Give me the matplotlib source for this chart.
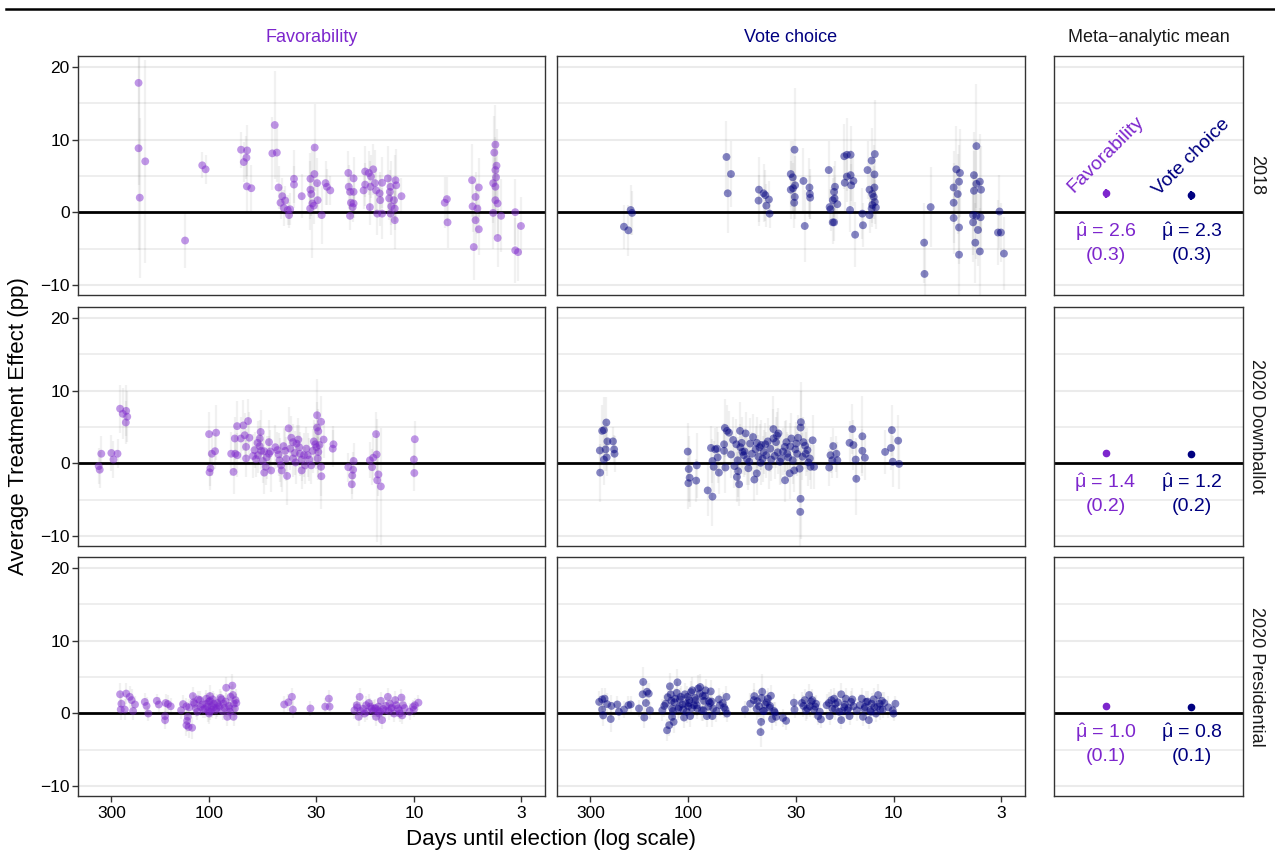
import matplotlib
matplotlib.use('Agg')
import matplotlib.pyplot as plt
from matplotlib.lines import Line2D
from matplotlib.ticker import NullLocator
import numpy as np

plt.rcParams['font.family'] = ['Liberation Sans', 'DejaVu Sans']
plt.rcParams['mathtext.fontset'] = 'custom'
plt.rcParams['mathtext.rm'] = 'Liberation Sans'
plt.rcParams['mathtext.it'] = 'Liberation Sans'

PURPLE = '#7D26CD'
NAVY = '#000080'

# ---- 2018, favorability ----
fav18_days = [221, 221, 205, 218, 131, 108, 104, 69.8, 65.2, 65.7,
              67.7, 65.4, 62.2, 47.8, 49.1, 46.7, 45.8, 43.9, 44.8, 42.5,
              43.2, 41.3, 40.2, 40.7, 38.5, 38.5, 35.3, 32.0, 30.6, 30.5,
              29.7, 32.0, 31.7, 29.5, 31.3, 32.1, 30.8, 28.2, 27.0, 26.6,
              25.6, 20.9, 19.7, 20.8, 20.5, 19.7, 20.3, 19.7, 19.9, 20.5,
              17.6, 17.3, 16.6, 15.8, 16.2, 17.3, 16.3, 15.5, 14.3, 14.7,
              15.3, 14.6, 16.4, 15.1, 14.3, 13.4, 13.0, 13.1, 12.3, 12.2,
              12.5, 13.2, 12.9, 12.4, 13.0, 12.4, 11.5, 7.07, 6.9, 6.85,
              5.2, 4.82, 5.0, 5.17, 4.9, 5.0, 4.82, 5.1, 4.0, 4.05,
              3.95, 4.0, 3.97, 4.1, 4.0, 4.0, 3.9, 4.1, 3.75, 3.9,
              3.2, 3.0, 3.2, 3.1]
fav18_ate = [17.8, 8.8, 7.0, 2.0, -3.9, 6.45, 5.9, 8.6, 8.5, 7.5,
             6.9, 3.55, 3.3, 12.0, 8.1, 8.2, 3.4, 2.2, 1.3, 1.6,
             0.6, 0.3, 0.4, -0.4, 4.6, 3.8, 2.2, 4.6, 5.25, 8.9,
             4.0, 3.1, 2.5, 1.65, 1.2, 0.5, 0.9, -0.4, 4.0, 3.5,
             3.0, 5.4, 4.65, 3.5, 2.8, 2.8, 1.3, 1.2, 0.7, -0.5,
             3.0, 5.6, 5.4, 5.9, 4.9, 3.8, 3.5, 4.0, 4.05, 2.6,
             3.0, 1.65, 0.7, -0.2, -0.2, 4.65, 3.5, 2.8, 4.4, 3.7,
             1.65, 1.9, 0.8, 0.5, -0.2, -1.1, 2.2, 1.3, 1.8, -1.4,
             4.4, 3.4, 2.1, 0.8, 0.5, -1.1, -2.35, -4.8, 9.3, 8.2,
             6.4, 5.8, 4.8, 4.0, 3.5, 1.65, 1.2, -0.1, -0.5, -3.55,
             0.0, -1.9, -5.25, -5.5]
fav18_ci = [14, 14, 14, 11, 3.8, 1.8, 2.0, 2.5, 3.5, 3.0,
            2.8, 3.5, 3.2, 7.5, 5.0, 4.0, 3.0, 2.5, 2.2, 2.0,
            2.5, 2.0, 2.2, 1.8, 4.0, 2.5, 3.0, 3.5, 4.0, 6.0,
            3.5, 4.0, 3.0, 2.5, 7.5, 3.0, 2.5, 4.0, 3.0, 2.5,
            2.0, 3.0, 3.0, 3.0, 2.5, 2.5, 2.0, 2.0, 2.0, 2.0,
            2.5, 3.5, 3.0, 3.5, 3.0, 3.0, 3.5, 4.5, 3.5, 3.0,
            3.0, 3.5, 2.5, 3.0, 3.5, 4.5, 3.5, 3.0, 3.5, 5.0,
            3.0, 3.0, 2.5, 3.0, 3.0, 4.0, 2.5, 3.5, 3.0, 3.5,
            5.0, 4.0, 3.5, 3.5, 3.5, 4.0, 3.5, 4.5, 5.5, 5.0,
            5.0, 4.5, 5.0, 5.5, 4.0, 5.0, 4.5, 5.0, 5.0, 4.0,
            4.5, 4.0, 4.5, 4.0]

# ---- 2018, vote choice ----
vote18_days = [206, 196, 191, 188, 65.2, 62.0, 64.3, 45.3, 45.5, 43.0,
               42.2, 40.5, 41.7, 40.2, 31.7, 30.4, 31.0, 30.2, 31.7, 30.9,
               30.3, 30.5, 27.5, 27.1, 25.7, 25.6, 25.5, 20.7, 19.3, 19.5,
               19.4, 19.8, 18.8, 20.5, 20.3, 19.8, 19.5, 17.4, 16.9, 16.2,
               17.3, 16.9, 16.2, 16.1, 15.7, 16.3, 15.4, 14.2, 14.1, 13.4,
               12.8, 12.35, 12.4, 13.1, 12.7, 12.4, 12.5, 12.35, 12.7, 12.2,
               12.8, 13.1, 7.1, 7.07, 6.6, 5.1, 5.1, 5.1, 4.95, 4.75,
               4.8, 4.87, 4.8, 4.8, 3.95, 4.06, 3.95, 3.8, 4.06, 3.75,
               4.1, 3.95, 3.77, 4.1, 3.88, 4.0, 3.8, 3.05, 3.1, 3.0,
               2.9]
vote18_ate = [-2.0, -2.5, 0.3, -0.1, 7.6, 5.25, 2.6, 3.1, 1.6, 2.6,
              2.35, 1.75, 0.9, -0.2, 5.25, 8.6, 4.8, 3.7, 3.1, 3.3,
              2.1, 1.3, 4.3, -1.9, 3.4, 2.5, 2.0, 5.8, 3.5, 2.8,
              1.9, 1.65, 1.1, 0.7, 0.4, -1.4, -1.4, 7.7, 7.9, 7.9,
              4.05, 4.9, 5.1, 3.7, 4.3, 0.3, -3.1, -0.2, -1.8, 5.8,
              7.1, 8.0, 5.2, 3.1, 2.5, 3.4, 2.1, 1.4, 1.0, 0.65,
              0.5, -0.4, -4.2, -8.5, 0.7, -0.8, 1.3, 3.4, 5.9, 5.4,
              4.2, 2.5, -2.1, -5.85, 9.1, 5.1, 3.9, 4.2, 2.95, 3.1,
              -0.4, -0.5, -0.7, -1.4, -2.45, -4.2, -5.4, 0.1, -2.8, -2.8,
              -5.7]
vote18_ci = [3.0, 3.5, 3.5, 3.0, 5.0, 4.5, 5.5, 4.5, 3.5, 4.0,
             3.5, 2.5, 3.0, 2.0, 4.5, 8.5, 5.0, 4.0, 4.0, 3.5,
             3.0, 3.5, 4.5, 5.0, 4.0, 3.5, 3.0, 4.0, 3.5, 3.5,
             3.0, 3.0, 2.5, 2.5, 3.0, 3.0, 2.5, 4.5, 5.0, 4.0,
             4.0, 3.5, 3.5, 3.0, 3.5, 3.0, 4.5, 3.5, 3.0, 4.0,
             4.5, 7.5, 4.0, 3.5, 3.5, 3.0, 3.0, 3.0, 2.5, 3.0,
             2.5, 2.5, 5.5, 5.0, 5.5, 5.0, 5.5, 5.0, 6.0, 6.0,
             5.0, 5.5, 5.0, 5.5, 8.5, 6.0, 6.0, 6.5, 5.5, 6.0,
             5.5, 6.0, 5.0, 5.5, 5.0, 5.5, 6.0, 5.0, 4.5, 4.0,
             5.0]

# ---- 2020 downballot, favorability ----
favdb_days = [346, 342, 336, 300, 293, 280, 272, 264, 254, 251,
              255, 100, 92.4, 97, 93.5, 99.5, 98.5, 78, 76, 74.9,
              73, 68, 67, 63.6, 64.5, 70, 74.5, 72.8, 66, 66,
              60, 59, 56, 56.6, 56.6, 55.6, 57.7, 53.8, 52.3, 51,
              51, 53.8, 52.9, 49.8, 46.4, 45.3, 44.5, 44.2, 43.3, 42.5,
              41.6, 40.9, 39.7, 38.9, 37.4, 38.2, 38.9, 36.7, 36.0, 35.3,
              35.3, 34.0, 33.5, 33.0, 31.7, 30.3, 29.7, 29.7, 29.3, 28.4,
              28.9, 29.3, 29.5, 28.4, 28.3, 27.6, 24.9, 24.7, 20.9, 19.7,
              19.8, 20.0, 20.1, 16.4, 15.8, 15.2, 15.3, 16.0, 14.9, 15.1,
              14.5, 9.9, 10.0, 9.95,
              61, 58, 54.7, 50.2, 47.5, 45.8, 42, 40.1, 37.8, 36.3,
              34.4, 32.4, 31.2, 30.8, 29.9]
favdb_ate = [-0.4, -0.9, 1.3, 1.4, 0.5, 1.3, 7.5, 6.8, 7.2, 6.4,
             5.6, 4.0, 4.2, 1.3, 1.65, -1.25, -0.7, 1.3, -1.2, 3.4,
             5.1, 5.2, 3.85, 3.5, 5.8, 3.4, 1.3, 1.1, 2.25, 0.65,
             1.8, 0.55, 4.3, 3.4, 2.35, 1.7, 1.1, 1.65, 0.8, 2.9,
             1.3, -1.3, -0.5, -1.0, 1.8, 0.4, -0.3, -1.0, 2.35, 1.7,
             -1.75, 4.8, 3.5, 2.9, 2.7, 1.4, 0.65, 3.25, 1.3, 0.5,
             -1.0, -0.3, 2.0, 1.1, -0.3, 2.6, 6.6, 4.9, 4.4, 5.7,
             2.5, 1.55, 0.65, -0.5, -1.8, 3.25, 2.0, 2.6, -0.55, 0.3,
             -0.9, -1.7, -2.9, 0.4, 0.75, 1.2, 4.0, -0.55, -1.55, -2.35,
             -3.2, 3.3, 0.5, -1.35,
             1.0, 2.8, 0.3, 1.6, 2.2, 1.2, 0.6, 2.0, 0.1, 2.2,
             1.1, 0.5, 1.7, 3.0, 2.2]
favdb_ci = [2.5, 2.5, 2.5, 2.5, 2.5, 2.0, 3.3, 3.5, 3.5, 3.5,
            3.0, 3.0, 3.8, 3.0, 2.5, 2.5, 2.5, 3.0, 3.0, 3.0,
            3.5, 3.5, 3.0, 3.5, 3.0, 3.0, 2.5, 3.0, 2.5, 2.5,
            2.5, 2.5, 3.0, 2.5, 2.5, 2.5, 2.5, 2.5, 3.0, 3.0,
            2.5, 3.0, 2.5, 3.0, 2.5, 3.0, 3.0, 3.0, 2.5, 3.0,
            4.0, 3.0, 3.0, 2.5, 2.5, 3.0, 2.5, 3.0, 3.0, 3.0,
            2.5, 2.5, 3.0, 3.0, 2.5, 3.0, 5.0, 3.5, 3.0, 3.5,
            3.0, 3.5, 3.0, 4.0, 4.5, 2.5, 2.5, 2.5, 2.0, 2.5,
            2.5, 2.5, 2.0, 2.5, 3.0, 3.0, 3.0, 2.5, 3.0, 8.5,
            8.0, 2.5, 2.5, 2.5,
            3.0, 3.0, 3.0, 3.0, 3.0, 3.0, 3.0, 3.0, 3.0, 3.0,
            3.0, 3.0, 3.0, 3.0, 3.0]

# ---- 2020 downballot, vote choice ----
votedb_days = [269, 270, 263, 258, 251, 253, 258, 250, 248, 233,
               230, 229, 100.7, 99.6, 98.6, 100, 91.6, 91, 80.5, 76.3,
               77.6, 76.3, 75.3, 74, 72.5, 72, 71, 67, 67, 66,
               66.4, 64.8, 63.4, 59.6, 58.0, 56.6, 57.2, 58.4, 56, 55,
               54.5, 53.8, 52.6, 51.8, 51, 50, 49, 47.7, 46.4, 46.4,
               45.6, 44.5, 44.2, 43, 42.2, 40.6, 39.5, 38.5, 38.5, 37.4,
               36.7, 36.4, 35.3, 33.9, 33.3, 33, 33.8, 32.1, 31.5, 30.5,
               29.8, 29.5, 28.7, 28.4, 28.5, 28.3, 28.4, 27.5, 26.8, 26.3,
               25.6, 25.4, 24.8, 24.4, 20.6, 20.3, 19.9, 19.7, 19.0, 18.8,
               15.9, 16.4, 15.7, 15.3, 15.2, 14.2, 14.2, 13.8, 11.0, 10.3,
               10.2, 10.1, 9.5, 9.4,
               62, 60.5, 57.5, 55.8, 53.2, 50.5, 48.4, 47, 45, 43.5,
               41.8, 41, 39.9, 38, 37, 35.8, 34.6, 32.6, 31.9, 31,
               30.1, 29.2, 27.8, 27, 26]
votedb_ate = [-1.3, 1.75, 4.45, 4.55, 5.6, 1.9, 0.5, 0.8, 3.0, 3.0,
              1.9, 1.3, 1.6, -0.8, -2.0, -2.75, -2.4, -0.3, -3.75, -4.6,
              2.1, 0.3, -0.5, 1.9, 2.0, 0.8, -1.3, 1.7, 2.6, -0.6,
              4.85, 4.45, 4.2, -0.4, -1.9, -2.9, -1.1, 2.6, 4.45, 2.8,
              1.55, 1.1, 4.1, 0.55, -0.7, 2.7, 1.3, -2.25, -1.4, 2.8,
              0.9, 0.05, 2.5, 1.55, 2.6, -0.5, 0.5, 4.7, 3.4, 2.9,
              1.5, 4.1, 0.65, 2.25, 2.9, 1.3, -2.35, -1.4, 3.4, -1.0,
              2.7, 1.3, -0.75, -4.9, -6.7, 5.65, 4.9, 2.9, 1.3, 1.8,
              0.65, -0.5, 3.15, -0.5, -0.6, 1.1, 0.4, 2.35, 1.3, 0.4,
              4.7, 2.8, 2.5, 0.5, -2.15, 1.7, 3.7, 0.75, 1.55, 2.1,
              4.55, 0.2, 3.1, -0.1,
              1.2, 3.2, 0.4, 2.2, 1.6, 0.2, 3.6, 1.9, 2.2, 0.6,
              1.1, 3.0, 2.0, 1.0, 3.8, 0.2, 1.6, 0.8, 2.3, 0.4,
              1.9, 3.5, 0.9, 2.4, 0.1]
votedb_ci = [4.0, 3.0, 3.5, 4.5, 3.5, 3.0, 3.5, 2.5, 2.5, 2.0,
             2.0, 2.5, 4.0, 4.5, 4.0, 3.5, 3.0, 4.5, 3.5, 4.0,
             3.0, 3.0, 3.5, 3.0, 3.0, 3.5, 3.0, 3.0, 3.0, 3.5,
             4.0, 3.5, 3.0, 3.0, 3.5, 3.0, 3.5, 3.5, 4.0, 3.5,
             3.0, 3.0, 3.0, 3.5, 3.0, 3.5, 3.0, 3.0, 3.0, 3.5,
             3.0, 3.0, 3.5, 3.0, 3.0, 3.0, 3.0, 4.5, 4.0, 3.5,
             3.0, 3.5, 3.5, 3.5, 3.0, 3.0, 3.0, 3.5, 3.5, 3.0,
             3.0, 3.0, 3.5, 5.5, 5.5, 5.5, 5.0, 3.5, 3.0, 3.0,
             3.0, 3.0, 3.5, 3.0, 2.5, 2.5, 2.5, 2.5, 2.5, 2.5,
             3.5, 3.0, 3.5, 3.0, 5.0, 3.0, 5.5, 3.0, 3.0, 3.0,
             3.5, 3.5, 3.5, 3.5,
             3.2, 3.2, 3.2, 3.2, 3.2, 3.2, 3.2, 3.2, 3.2, 3.2,
             3.2, 3.2, 3.2, 3.2, 3.2, 3.2, 3.2, 3.2, 3.2, 3.2,
             3.2, 3.2, 3.2, 3.2, 3.2]

# ---- 2020 presidential, favorability ----
favpr_days = [272, 254, 268, 270, 258, 244, 239, 230, 235, 206,
              202, 198, 180, 176, 163, 159, 154, 164, 164, 137,
              134, 129, 127, 128, 129, 126, 121, 120, 118, 113,
              116, 110, 107, 103, 101, 99, 98.9, 97, 94.8, 100,
              92, 90, 87, 85, 82.5, 81.5, 79.5, 78.5, 77, 76.5,
              75.7, 74.8, 74.3, 73.6, 76, 43, 41, 39.4, 39, 32,
              27.1, 26, 25.8, 19.5, 19, 18.6, 18.4, 17.4, 17.1, 16.6,
              16.1, 15.6, 15.3, 15, 14.8, 14.5, 14.3, 13.8, 13.4, 13.1,
              12.9, 12.5, 12.35, 11.95, 11.7, 11.5, 11.3, 11.4, 10.1, 10.0,
              9.9, 9.5,
              125, 119, 114, 111, 108, 105, 103, 102, 100, 99,
              97, 96, 95, 93, 91, 89, 88, 86, 84, 83,
              80, 79, 18.9, 18.2, 17.7, 16.9, 16.3, 15.8, 15.4, 14.9,
              14.6, 14.1, 13.7, 13.3, 12.8, 12.2, 11.8, 11.1, 10.5]
favpr_ate = [2.6, 2.7, 1.3, 0.5, 0.5, 2.25, 1.8, 1.2, 0.3, 1.55,
             1.0, -0.05, 1.7, 1.2, 1.4, 1.25, 0.95, -0.4, -0.95, 0.4,
             1.25, 0.95, -0.5, -1.05, -1.65, -1.9, -2.0, 2.35, 1.3, 1.9,
             0.65, 0.85, 0.5, 1.3, 0.3, 2.35, 1.7, 0.95, 1.3, -0.05,
             0.65, 1.1, 1.9, 1.3, 3.5, -0.5, 0.65, 2.25, 3.8, 2.5,
             1.3, 0.65, 1.8, 1.4, -0.5, 1.2, 1.5, 2.25, 0.5, 0.65,
             0.9, 2.0, 0.9, 0.4, 1.1, -0.5, 2.25, -0.05, 1.1, 1.4,
             0.65, 0.65, -0.5, 0.4, -0.05, 1.7, -0.95, 0.4, 2.25, 1.3,
             0.65, -0.05, 1.8, 0.65, -0.05, 2.15, 1.1, -0.3, 0.85, 0.5,
             1.1, 1.45,
             0.8, 1.5, 0.2, 1.8, 1.2, 0.6, 2.0, 0.9, 1.6, 0.2,
             0.5, 1.9, 0.8, 0.4, 1.4, 0.9, 2.1, 0.3, 0.7, 1.6,
             1.0, 0.2, 0.8, 0.3, 0.6, 0.2, 0.9, 0.3, 0.7, 0.9,
             0.2, 0.6, 1.0, 0.3, 0.8, 1.1, 0.4, 0.7, 0.2]
favpr_ci = [1.5, 1.5, 1.5, 1.5, 1.5, 1.5, 1.5, 1.2, 1.2, 1.2,
            1.2, 1.0, 1.0, 1.0, 1.2, 1.2, 1.2, 1.2, 1.2, 1.2,
            1.2, 1.2, 1.5, 1.5, 1.5, 1.5, 1.5, 1.2, 1.2, 1.2,
            1.2, 1.2, 1.2, 1.5, 1.5, 1.5, 1.2, 1.2, 1.5, 1.5,
            1.2, 1.2, 1.2, 1.2, 1.5, 1.2, 1.2, 1.5, 1.6, 1.5,
            1.2, 1.2, 1.5, 1.2, 1.2, 1.2, 1.2, 1.2, 1.2, 1.0,
            1.2, 1.2, 1.2, 1.2, 1.2, 1.2, 1.2, 1.2, 1.2, 1.2,
            1.2, 1.2, 1.2, 1.2, 1.2, 1.2, 1.2, 1.2, 1.2, 1.2,
            1.2, 1.2, 1.2, 1.2, 1.2, 1.2, 1.2, 1.2, 1.0, 1.0,
            1.0, 1.0,
            1.2, 1.2, 1.2, 1.2, 1.2, 1.2, 1.2, 1.2, 1.2, 1.2,
            1.2, 1.2, 1.2, 1.2, 1.2, 1.2, 1.2, 1.2, 1.2, 1.2,
            1.2, 1.2, 1.2, 1.2, 1.2, 1.2, 1.2, 1.2, 1.2, 1.2,
            1.2, 1.2, 1.2, 1.2, 1.2, 1.2, 1.2, 1.2, 1.2]

# ---- 2020 presidential, vote choice ----
votepr_days = [272, 263, 256, 263, 260, 249, 239, 237, 222, 218,
               206, 196, 191, 174, 166, 167, 161, 164, 159, 156,
               154, 134, 129, 127, 124, 123, 122, 121, 120, 120,
               118, 116, 113, 111, 109, 106, 105, 103, 101, 100,
               98.9, 98, 95.8, 94, 92, 90.5, 89.5, 87.6, 85.2, 84.5,
               82.5, 81.2, 79.6, 78.5, 77.8, 76.4, 75.7, 70.2, 68, 65.2,
               66, 64.8, 53, 50, 47.7, 46.1, 45.3, 44.5, 44.2, 43.7,
               43.3, 42.2, 41, 40.2, 39.1, 38.2, 37.4, 34.6, 33.4, 30.6,
               30.4, 28, 27.1, 26.3, 25.8, 25.6, 24.9, 24.4, 23.9, 23.3,
               22.6, 20.7, 20.5, 19.9, 19.5, 19.2, 18.4, 18, 18, 17.4,
               17.1, 16.8, 16.4, 16.1, 15.7, 14.3, 14.1, 13.8, 13.6, 13.2,
               13.0, 12.8, 12.4, 12.2, 11.9, 11.7, 11.4, 11.3, 10.1, 10.0,
               9.8,
               131, 126, 119, 117, 114, 112, 110, 107, 104, 102,
               99, 97, 96, 93, 91, 88, 86, 84, 83, 80,
               77, 73, 71, 67, 48, 46.5, 44, 42.8, 41.5, 40,
               39.6, 37.9, 27.5, 26.7, 25.2, 24.1, 22.9, 21.2, 20.1, 19.3,
               18.7, 17.8, 17.3, 16.6, 15.9, 15.1, 14.6, 13.9, 13.4, 12.9,
               12.5, 12.0, 11.6, 11.1, 10.6]
votepr_ate = [1.55, 1.9, 2.0, 0.5, -0.3, 1.25, -0.8, 1.0, 1.2, 0.2,
              0.5, 1.1, 1.2, 0.65, 4.3, 2.6, 1.4, -0.6, 2.95, 2.7,
              0.4, 0.4, 1.3, -2.35, -1.65, 3.7, 2.6, 1.7, 0.65, -0.5,
              -1.2, 2.0, 4.25, 0.85, 2.25, 0.5, -0.6, 1.3, 2.25, 0.95,
              1.8, -0.4, 3.15, 1.1, 1.8, 0.65, 3.4, 3.6, 2.35, 0.4,
              3.15, -0.4, 1.65, 1.4, 3.0, -0.4, 0.65, 1.1, 1.4, 2.25,
              0.5, -0.05, 0.5, 1.3, 2.35, 1.65, 0.95, -2.6, -1.2, 2.95,
              0.3, 1.2, 2.0, 0.75, -0.8, 0.3, -0.5, -0.65, -1.05, 1.45,
              0.5, 1.4, 1.8, 0.65, 2.5, 0.95, 1.8, 0.5, 1.3, -0.4,
              -0.85, 1.4, -0.4, 0.65, 2.0, 1.3, 0.2, 2.6, -0.95, 0.85,
              2.0, 0.4, -0.4, 1.55, 0.95, 2.0, -0.5, 0.85, 1.55, -0.95,
              0.4, 1.3, 0.85, -0.05, 2.5, 1.3, 1.7, 0.5, 0.4, -0.05,
              1.3,
              1.0, 2.2, 0.3, 1.5, 2.8, 0.6, 1.9, 1.2, 2.6, 0.2,
              1.4, 2.9, 0.7, 2.1, 1.1, 2.7, 0.4, 1.7, 2.4, 0.9,
              1.6, 0.3, 1.9, 0.8, 1.8, 0.6, 2.1, 0.3, 1.5, 1.0,
              2.4, 0.1, 1.0, 0.4, 1.6, 0.9, 0.2, 1.1, 1.8, 0.6,
              1.5, 0.3, 1.2, 0.7, 1.9, 0.4, 1.1, 0.6, 1.6, 0.2,
              1.9, 0.9, 0.5, 1.4, 0.8]
votepr_ci = [1.5, 1.5, 1.5, 1.5, 1.5, 1.5, 1.8, 1.5, 1.2, 1.2,
             1.2, 1.2, 1.2, 1.2, 2.0, 1.8, 1.5, 1.5, 1.5, 1.5,
             1.2, 1.5, 1.5, 1.5, 1.5, 1.8, 1.5, 1.5, 1.5, 1.5,
             1.5, 1.5, 1.8, 1.5, 1.5, 1.5, 1.5, 1.5, 1.5, 1.5,
             1.5, 1.5, 1.8, 1.5, 1.5, 1.5, 1.8, 1.8, 1.5, 1.5,
             1.5, 1.5, 1.5, 1.5, 1.5, 1.5, 1.5, 1.5, 1.5, 1.5,
             1.2, 1.2, 1.2, 1.5, 1.8, 1.5, 1.5, 2.0, 1.5, 2.5,
             1.5, 1.5, 1.5, 1.5, 1.5, 1.2, 1.2, 1.2, 1.2, 1.2,
             1.2, 1.5, 1.5, 1.5, 1.5, 1.5, 1.5, 1.2, 1.2, 1.2,
             1.2, 1.5, 1.2, 1.5, 1.5, 1.5, 1.2, 1.5, 1.2, 1.5,
             1.5, 1.2, 1.2, 1.5, 1.2, 1.5, 1.2, 1.2, 1.5, 1.2,
             1.2, 1.5, 1.2, 1.2, 1.5, 1.2, 1.2, 1.2, 1.0, 1.0,
             1.0,
             1.5, 1.5, 1.5, 1.5, 1.5, 1.5, 1.5, 1.5, 1.5, 1.5,
             1.5, 1.5, 1.5, 1.5, 1.5, 1.5, 1.5, 1.5, 1.5, 1.5,
             1.5, 1.5, 1.5, 1.5, 1.5, 1.5, 1.5, 1.5, 1.5, 1.5,
             1.5, 1.5, 1.5, 1.5, 1.5, 1.5, 1.5, 1.5, 1.5, 1.5,
             1.5, 1.5, 1.5, 1.5, 1.5, 1.5, 1.5, 1.5, 1.5, 1.5,
             1.5, 1.5, 1.5, 1.5, 1.5]

# meta-analytic means by row (2018, 2020 downballot, 2020 presidential)
row_labels = ['2018', '2020 Downballot', '2020 Presidential']
meta_fav = [2.6, 1.4, 1.0]
meta_fav_se = [0.3, 0.2, 0.1]
meta_vote = [2.3, 1.2, 0.8]
meta_vote_se = [0.3, 0.2, 0.1]

x_ticks = [300, 100, 30, 10, 3]

panels = [
    [(fav18_days, fav18_ate, fav18_ci), (vote18_days, vote18_ate, vote18_ci)],
    [(favdb_days, favdb_ate, favdb_ci), (votedb_days, votedb_ate, votedb_ci)],
    [(favpr_days, favpr_ate, favpr_ci), (votepr_days, votepr_ate, votepr_ci)],
]

W, H = 1275, 867
fig = plt.figure(figsize=(W / 100, H / 100), dpi=100)


def px_axes(x0, y0, x1, y1):
    # pixel box (from top-left) -> figure axes
    return fig.add_axes([x0 / W, 1 - y1 / H, (x1 - x0) / W, (y1 - y0) / H])


def base_style(ax):
    ax.set_ylim(-11.4, 21.5)
    for y in [-10, 10, 20]:
        ax.axhline(y, color='#EBEBEB', lw=1.5, zorder=0)
    for y in [-5, 5, 15]:
        ax.axhline(y, color='#EBEBEB', lw=1.2, zorder=0)
    ax.axhline(0, color='black', lw=2.0, zorder=2)
    for s in ax.spines.values():
        s.set_color('#333333')
        s.set_linewidth(1.0)
    ax.set_yticks([-10, 0, 10, 20])
    ax.set_yticklabels(['\u221210', '0', '10', '20'])
    ax.tick_params(axis='y', length=4, width=1, color='#333333',
                   labelsize=12.5, labelcolor='black', pad=2)


col_x = [(78, 545), (557, 1025)]
row_y = [(56, 295), (307, 546), (557, 796)]
colors = [PURPLE, NAVY]

for r in range(3):
    for c in range(2):
        ax = px_axes(col_x[c][0], row_y[r][0], col_x[c][1], row_y[r][1])
        base_style(ax)
        days, ate, ci = panels[r][c]
        days = np.array(days)
        ate = np.array(ate)
        ci = np.array(ci)
        ax.vlines(days, ate - ci, ate + ci, color='#808080', alpha=0.11,
                  lw=1.6, zorder=1)
        ax.scatter(days, ate, s=32, color=colors[c], alpha=0.48,
                   edgecolors='none', zorder=4)
        ax.set_xscale('log')
        ax.set_xlim(436.6, 2.29)
        ax.xaxis.set_minor_locator(NullLocator())
        ax.set_xticks(x_ticks)
        ax.set_xticklabels([str(t) for t in x_ticks])
        if r == 2:
            ax.tick_params(axis='x', length=4, width=1, color='#333333',
                           labelsize=12.5, pad=3)
        else:
            ax.tick_params(axis='x', length=0, labelbottom=False)
        if c == 1:
            ax.tick_params(axis='y', length=0, labelleft=False)

    # meta-analytic panel
    ax = px_axes(1054, row_y[r][0], 1243, row_y[r][1])
    base_style(ax)
    ax.tick_params(axis='y', length=0, labelleft=False)
    ax.set_xlim(0.4, 2.6)
    ax.set_xticks([])
    ests = [meta_fav[r], meta_vote[r]]
    ses = [meta_fav_se[r], meta_vote_se[r]]
    for i in range(2):
        ax.errorbar([i + 1], [ests[i]], yerr=[1.96 * ses[i]], fmt='o',
                    color=colors[i], ms=4.5, elinewidth=1.6, capsize=0,
                    zorder=5)
        ax.text(i + 1, -2.7, r'$\hat{\mu}$' + ' = %.1f' % ests[i],
                color=colors[i], fontsize=14, ha='center', va='center')
        ax.text(i + 1, -6.0, '(%.1f)' % ses[i], color=colors[i],
                fontsize=14, ha='center', va='center')
    if r == 0:
        ax.text(1, 8.0, 'Favorability', color=PURPLE, fontsize=14,
                rotation=45, rotation_mode='anchor', ha='center', va='center')
        ax.text(2, 7.6, 'Vote choice', color=NAVY, fontsize=14,
                rotation=45, rotation_mode='anchor', ha='center', va='center')

    # row strip label
    fig.text(1257 / W, 1 - (row_y[r][0] + row_y[r][1]) / 2 / H, row_labels[r],
             rotation=-90, ha='center', va='center', fontsize=13,
             color='#1A1A1A')

# column headers
fig.text(311.5 / W, 1 - 37 / H, 'Favorability', color=PURPLE, fontsize=13,
         ha='center', va='center')
fig.text(791 / W, 1 - 37 / H, 'Vote choice', color=NAVY, fontsize=13,
         ha='center', va='center')
fig.text(1148.5 / W, 1 - 37 / H, 'Meta\u2212analytic mean', color='#1A1A1A',
         fontsize=13, ha='center', va='center')

# axis titles
fig.text(551 / W, 1 - 840 / H, 'Days until election (log scale)',
         fontsize=16, ha='center', va='center')
fig.text(19 / W, 1 - 426 / H, 'Average Treatment Effect (pp)',
         fontsize=16, ha='center', va='center', rotation=90)

# rule across the top
fig.add_artist(Line2D([6 / W, 1], [1 - 9 / H, 1 - 9 / H], color='black',
                      lw=1.8))

fig.savefig('out.png', dpi=100)
